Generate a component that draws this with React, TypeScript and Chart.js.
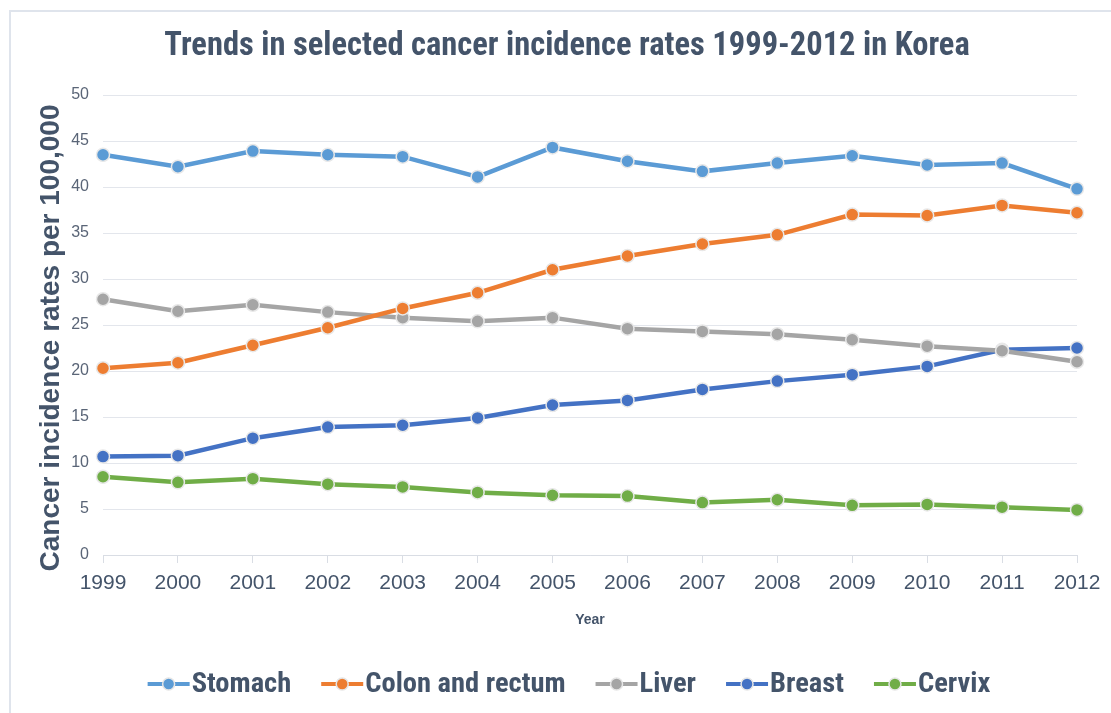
import React, { useEffect, useRef } from "react";
import { Chart, registerables } from "chart.js";

Chart.register(...registerables);

const years = ["1999","2000","2001","2002","2003","2004","2005","2006","2007","2008","2009","2010","2011","2012"];
const stomach = [43.5, 42.2, 43.9, 43.5, 43.3, 41.1, 44.3, 42.8, 41.7, 42.6, 43.4, 42.4, 42.6, 39.8];
const colon = [20.3, 20.9, 22.8, 24.7, 26.8, 28.5, 31.0, 32.5, 33.8, 34.8, 37.0, 36.9, 38.0, 37.2];
const liver = [27.8, 26.5, 27.2, 26.4, 25.8, 25.4, 25.8, 24.6, 24.3, 24.0, 23.4, 22.7, 22.2, 21.0];
const breast = [10.7, 10.8, 12.7, 13.9, 14.1, 14.9, 16.3, 16.8, 18.0, 18.9, 19.6, 20.5, 22.3, 22.5];
const cervix = [8.5, 7.9, 8.3, 7.7, 7.4, 6.8, 6.5, 6.4, 5.7, 6.0, 5.4, 5.5, 5.2, 4.9];

const seriesNames = ["Stomach", "Colon and rectum", "Liver", "Breast", "Cervix"];
const seriesColors = ["#5B9BD5", "#ED7D31", "#A5A5A5", "#4472C4", "#70AD47"];
const seriesData = [stomach, colon, liver, breast, cervix];

const titleText = "Trends in selected cancer incidence rates 1999-2012 in Korea";
const yTitle = "Cancer incidence rates per 100,000";
const xTitle = "Year";

const TEXT = "#44546A";
const NARROW = "'Liberation Sans Narrow', 'Arial Narrow', 'Roboto Condensed', 'Liberation Sans', sans-serif";
const SANS = "'Liberation Sans', Arial, sans-serif";

const decorPlugin = {
  id: "decor",
  afterDraw(chart: any) {
    const ctx = chart.ctx;
    const area = chart.chartArea;
    ctx.save();
    // title
    ctx.fillStyle = TEXT;
    ctx.font = `bold 32.5px ${NARROW}`;
    ctx.textAlign = "center";
    ctx.textBaseline = "middle";
    ctx.fillText(titleText, 567, 47);
    // y title
    ctx.save();
    ctx.translate(51, 338);
    ctx.rotate(-Math.PI / 2);
    ctx.font = `bold 28px ${SANS}`;
    ctx.fillText(yTitle, 0, 0);
    ctx.restore();
    // x title
    ctx.font = `bold 14px ${SANS}`;
    ctx.fillText(xTitle, (area.left + area.right) / 2, 620);
    // legend
    ctx.font = `bold 28.5px ${NARROW}`;
    const symW = 42;
    const gapT = 2;
    const gapItem = 30;
    const widths = seriesNames.map((n) => ctx.measureText(n).width);
    const total = widths.reduce((a, w) => a + symW + gapT + w, 0) + gapItem * (seriesNames.length - 1);
    let x = 569 - total / 2;
    const y = 684;
    seriesNames.forEach((n, i) => {
      ctx.strokeStyle = seriesColors[i];
      ctx.lineWidth = 4;
      ctx.beginPath();
      ctx.moveTo(x, y);
      ctx.lineTo(x + symW, y);
      ctx.stroke();
      ctx.beginPath();
      ctx.arc(x + symW / 2, y, 6, 0, Math.PI * 2);
      ctx.fillStyle = seriesColors[i];
      ctx.fill();
      ctx.lineWidth = 1.5;
      ctx.strokeStyle = "#e6e6e6";
      ctx.stroke();
      ctx.fillStyle = TEXT;
      ctx.textAlign = "left";
      ctx.fillText(n, x + symW + gapT, y + 1);
      x += symW + gapT + widths[i] + gapItem;
    });
    ctx.restore();
  },
};

export default function App() {
  const ref = useRef<HTMLCanvasElement | null>(null);
  useEffect(() => {
    if (!ref.current) return;
    const chart = new Chart(ref.current, {
      type: "line",
      data: {
        labels: years,
        datasets: seriesData.map((d, i) => ({
          label: seriesNames[i],
          data: d,
          borderColor: seriesColors[i],
          backgroundColor: seriesColors[i],
          borderWidth: 4.5,
          pointRadius: 6.5,
          pointBorderWidth: 1.5,
          pointBorderColor: "#e8e8e8",
          pointBackgroundColor: seriesColors[i],
          tension: 0,
        })),
      },
      plugins: [decorPlugin],
      options: {
        animation: false,
        responsive: false,
        maintainAspectRatio: false,
        layout: { padding: { left: 0, right: 34, top: 95, bottom: 0 } },
        plugins: {
          legend: { display: false },
          title: { display: false },
          tooltip: { enabled: false },
        },
        scales: {
          x: {
            offset: false,
            afterFit: (s: any) => { s.height = 158; },
            grid: {
              display: true,
              drawOnChartArea: false,
              drawTicks: true,
              tickLength: 8,
              color: "#d9dde4",
              lineWidth: 1,
            },
            border: { display: true, color: "#d9dde4", width: 1 },
            ticks: {
              color: TEXT,
              font: { family: SANS, size: 21 },
              padding: 8,
              maxRotation: 0,
              autoSkip: false,
            },
          },
          y: {
            min: 0,
            max: 50,
            afterFit: (s: any) => { s.width = 103; },
            grid: { color: "#e3e6ec", lineWidth: 1, drawTicks: false },
            border: { display: false },
            ticks: {
              stepSize: 5,
              color: "#5a6577",
              font: { family: SANS, size: 16 },
              padding: 14,
            },
          },
        },
      },
    });
    return () => chart.destroy();
  }, []);
  return (
    <div style={{ position: "fixed", left: 0, top: 0, width: 1111, height: 713, overflow: "hidden", background: "#fff" }}>
      <div style={{ position: "absolute", left: 9, top: 10, width: 1200, height: 800, borderLeft: "2px solid #dfe4ec", borderTop: "2px solid #dfe4ec" }} />
      <canvas ref={ref} width={1111} height={713} style={{ position: "absolute", left: 0, top: 0, width: 1111, height: 713 }} />
    </div>
  );
}
